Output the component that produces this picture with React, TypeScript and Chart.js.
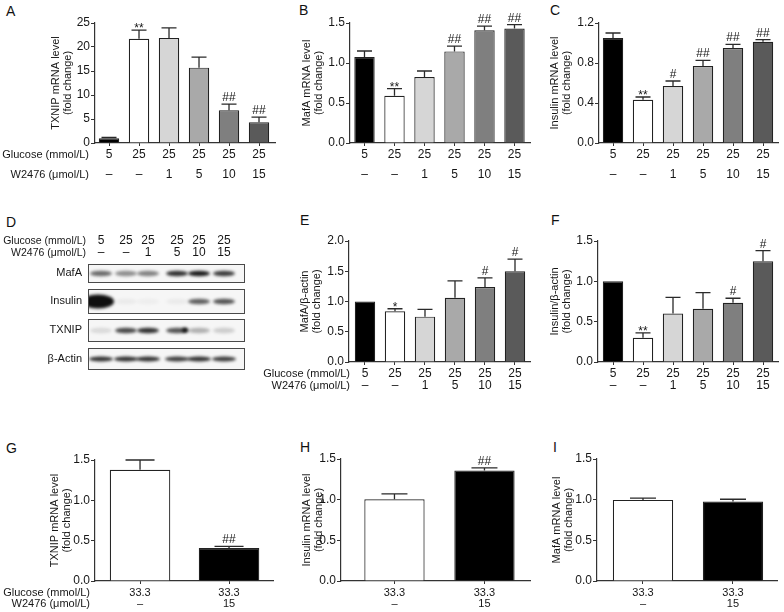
import React, { useEffect, useRef } from "react";
import { Chart, registerables } from "chart.js";
Chart.register(...registerables);

const FONT = "'Liberation Sans', Arial, Helvetica, sans-serif";
const INK = "#161616";
const AXIS = "#333333";

// ---- shared category labels ----
const glucose6 = ["5", "25", "25", "25", "25", "25"];
const w2476_6 = ["–", "–", "1", "5", "10", "15"];
const glucose2 = ["33.3", "33.3"];
const w2476_2 = ["–", "15"];
const rowLabelGlucose = "Glucose (mmol/L)";
const rowLabelW2476 = "W2476 (μmol/L)";

const fills6 = ["#000000", "#ffffff", "#d6d6d6", "#a9a9a9", "#7f7f7f", "#5a5a5a"];
const fills2 = ["#ffffff", "#000000"];

// ---- A: TXNIP mRNA ----
const aValues = [1.0, 21.7, 21.9, 15.7, 6.8, 4.3];
const aErrors = [0.15, 1.8, 2.1, 2.2, 1.3, 1.1];
const aSig = ["", "**", "", "", "##", "##"];
// ---- B: MafA mRNA ----
const bValues = [1.075, 0.59, 0.825, 1.145, 1.41, 1.43];
const bErrors = [0.075, 0.09, 0.075, 0.065, 0.05, 0.05];
const bSig = ["", "**", "", "##", "##", "##"];
// ---- C: Insulin mRNA ----
const cValues = [1.05, 0.433, 0.57, 0.77, 0.95, 1.013];
const cErrors = [0.05, 0.027, 0.05, 0.057, 0.037, 0.02];
const cSig = ["", "**", "#", "##", "##", "##"];
// ---- E: MafA/β-actin ----
const eValues = [1.0, 0.84, 0.75, 1.06, 1.24, 1.5];
const eErrors = [0, 0.04, 0.12, 0.28, 0.15, 0.2];
const eSig = ["", "*", "", "", "#", "#"];
// ---- F: Insulin/β-actin ----
const fValues = [1.0, 0.3, 0.6, 0.66, 0.735, 1.25];
const fErrors = [0, 0.06, 0.2, 0.2, 0.055, 0.13];
const fSig = ["", "**", "", "", "#", "#"];
// ---- G/H/I ----
const gValues = [1.38, 0.41];
const gErrors = [0.12, 0.02];
const gSig = ["", "##"];
const hValues = [1.005, 1.36];
const hErrors = [0.065, 0.03];
const hSig = ["", "##"];
const iValues = [0.997, 0.977];
const iErrors = [0.023, 0.028];
const iSig = ["", ""];

// ---- D: western blot band intensities (0..1) per lane ----
const blotProteins = ["MafA", "Insulin", "TXNIP", "β-Actin"];
const blotMafA = [0.6, 0.45, 0.5, 0.85, 0.95, 0.8];
const blotInsulin = [1.0, 0.05, 0.04, 0.05, 0.65, 0.7];
const blotTXNIP = [0.12, 0.75, 0.85, 0.7, 0.3, 0.18];
const blotActin = [0.85, 0.85, 0.85, 0.8, 0.85, 0.8];

type Geo = {
  left: number; top: number; width: number; height: number;
  axisX: number; topY: number; zeroY: number; endX: number;
  titleX: number; xMin: number; xMax: number;
  row1Y: number; row2Y: number; rowLabelRight?: number;
};

type PanelProps = {
  geo: Geo;
  values: number[];
  errors: number[];
  sig: string[];
  fills: string[];
  rows: string[][];
  yMax: number;
  yStep: number;
  decimals: number;
  title: string[];
  barPct: number;
  capW: number;
  xFont: number;
};

function BarPanel(p: PanelProps) {
  const ref = useRef<HTMLCanvasElement>(null);
  useEffect(() => {
    const g = p.geo;
    const lh = g.row2Y - g.row1Y;
    const firstOff = g.row1Y - g.zeroY;
    const tickLen = 3;
    const tickPad = firstOff - lh / 2 - tickLen;
    const titleLH = 12;
    const titlePad = g.titleX - g.left - titleLH / 2;
    const xs = p.values.map((_, i) => i);

    const plugin = {
      id: "errbars",
      afterDatasetsDraw(chart: any) {
        const ctx = chart.ctx as CanvasRenderingContext2D;
        const ys = chart.scales.y;
        const meta = chart.getDatasetMeta(0);
        ctx.save();
        meta.data.forEach((el: any, i: number) => {
          const e = p.errors[i];
          const yb = ys.getPixelForValue(p.values[i]);
          const yt = ys.getPixelForValue(p.values[i] + e);
          const x = el.x;
          if (e > 0) {
            ctx.strokeStyle = "#2a2a2a";
            ctx.lineWidth = 1.3;
            ctx.beginPath();
            ctx.moveTo(x, yb);
            ctx.lineTo(x, yt);
            ctx.moveTo(x - p.capW / 2, yt);
            ctx.lineTo(x + p.capW / 2, yt);
            ctx.stroke();
          }
          const s = p.sig[i];
          if (s) {
            ctx.fillStyle = INK;
            ctx.font = `12px ${FONT}`;
            ctx.textAlign = "center";
            ctx.textBaseline = "alphabetic";
            const by = s.indexOf("*") >= 0 ? yt + 2 : yt - 3;
            ctx.fillText(s, x, by);
          }
        });
        if (g.rowLabelRight !== undefined) {
          const ca = chart.chartArea;
          ctx.fillStyle = INK;
          ctx.font = `11px ${FONT}`;
          ctx.textAlign = "right";
          ctx.textBaseline = "middle";
          const rx = g.rowLabelRight - g.left;
          ctx.fillText(rowLabelGlucose, rx, ca.bottom + (g.row1Y - g.zeroY));
          ctx.fillText(rowLabelW2476, rx, ca.bottom + (g.row2Y - g.zeroY));
        }
        ctx.restore();
      },
    };

    const chart = new Chart(ref.current!, {
      type: "bar",
      data: {
        datasets: [
          {
            data: p.values.map((v, i) => ({ x: i, y: v })),
            backgroundColor: p.fills,
            borderColor: "#222222",
            borderWidth: 1.2,
            barPercentage: p.barPct,
            categoryPercentage: 1,
          } as any,
        ],
      },
      options: {
        animation: false,
        responsive: false,
        maintainAspectRatio: false,
        layout: {
          padding: { left: 0, right: g.left + g.width - g.endX, top: g.topY - g.top, bottom: 0 },
        },
        plugins: { legend: { display: false }, tooltip: { enabled: false }, title: { display: false } },
        scales: {
          x: {
            type: "linear",
            min: g.xMin,
            max: g.xMax,
            offset: false,
            afterBuildTicks: (s: any) => {
              s.ticks = xs.map((v) => ({ value: v }));
            },
            afterFit: (s: any) => {
              s.height = g.top + g.height - g.zeroY;
            },
            ticks: {
              autoSkip: false,
              maxRotation: 0,
              minRotation: 0,
              padding: tickPad,
              color: INK,
              font: { family: FONT, size: p.xFont, lineHeight: `${lh}px` } as any,
              callback: (_v: any, i: number) => [p.rows[0][i], p.rows[1][i]],
            },
            grid: { display: true, drawOnChartArea: false, drawTicks: true, tickLength: tickLen, color: AXIS, offset: false },
            border: { display: true, color: AXIS, width: 1.2 },
          } as any,
          y: {
            min: 0,
            max: p.yMax,
            afterFit: (s: any) => {
              s.width = g.axisX - g.left;
            },
            ticks: {
              stepSize: p.yStep,
              padding: 1,
              color: INK,
              font: { family: FONT, size: 12 },
              callback: (v: any) => Number(v).toFixed(p.decimals),
            },
            grid: { display: true, drawOnChartArea: false, drawTicks: true, tickLength: 4, color: AXIS },
            border: { display: true, color: AXIS, width: 1.2 },
            title: {
              display: true,
              text: p.title,
              color: INK,
              font: { family: FONT, size: 11, lineHeight: `${titleLH}px` } as any,
              padding: { top: titlePad, bottom: 0 },
            },
          } as any,
        },
      },
      plugins: [plugin],
    });
    return () => chart.destroy();
  }, []);
  const g = p.geo;
  return (
    <canvas
      ref={ref}
      width={g.width}
      height={g.height}
      style={{ position: "absolute", left: g.left, top: g.top, width: g.width, height: g.height }}
    />
  );
}

function Blot() {
  const ref = useRef<HTMLCanvasElement>(null);
  useEffect(() => {
    const c = ref.current!;
    const ctx = c.getContext("2d")!;
    const OY = 205;
    ctx.clearRect(0, 0, c.width, c.height);
    ctx.save();
    ctx.translate(0, -OY);
    const laneX = [101, 126, 148, 177, 199, 224];
    const boxL = 88, boxR = 245;
    const boxes = [
      [264, 283],
      [289, 314],
      [319, 342],
      [348, 370],
    ];
    const rowsI = [blotMafA, blotInsulin, blotTXNIP, blotActin];
    const labelY = [273, 301, 330, 359];

    // header
    ctx.fillStyle = INK;
    ctx.font = `10.5px ${FONT}`;
    ctx.textBaseline = "middle";
    ctx.textAlign = "right";
    ctx.fillText(rowLabelGlucose, 86, 241);
    ctx.fillText(rowLabelW2476, 86, 253);
    ctx.textAlign = "center";
    ctx.font = `12px ${FONT}`;
    glucose6.forEach((t, i) => ctx.fillText(t, laneX[i], 241));
    w2476_6.forEach((t, i) => ctx.fillText(t, laneX[i], 253));

    boxes.forEach(([t, b], r) => {
      ctx.fillStyle = "#f6f6f6";
      ctx.fillRect(boxL, t, boxR - boxL, b - t);
      ctx.save();
      ctx.beginPath();
      ctx.rect(boxL, t, boxR - boxL, b - t);
      ctx.clip();
      ctx.filter = "blur(1.6px)";
      const mid = (t + b) / 2;
      rowsI[r].forEach((v, i) => {
        ctx.fillStyle = `rgba(15,15,15,${v})`;
        ctx.beginPath();
        if (r === 1 && i === 0) {
          ctx.ellipse(laneX[i] - 3, mid, 16, 7, 0, 0, Math.PI * 2);
        } else {
          const rx = r === 3 ? 12 : 11;
          const ry = r === 3 ? 2.6 : 2.8;
          ctx.ellipse(laneX[i], mid, rx, ry, 0, 0, Math.PI * 2);
        }
        ctx.fill();
      });
      if (r === 2) {
        ctx.fillStyle = "rgba(0,0,0,0.85)";
        ctx.beginPath();
        ctx.ellipse(laneX[3] + 8, mid - 0.5, 3, 2.6, 0, 0, Math.PI * 2);
        ctx.fill();
      }
      ctx.restore();
      ctx.strokeStyle = "#4a4a4a";
      ctx.lineWidth = 1;
      ctx.strokeRect(boxL + 0.5, t + 0.5, boxR - boxL - 1, b - t - 1);
      ctx.fillStyle = INK;
      ctx.font = `11px ${FONT}`;
      ctx.textAlign = "right";
      ctx.textBaseline = "middle";
      ctx.fillText(blotProteins[r], 82, labelY[r]);
    });
    ctx.restore();
  }, []);
  return (
    <canvas ref={ref} width={260} height={180} style={{ position: "absolute", left: 0, top: 205, width: 260, height: 180 }} />
  );
}

const letterStyle = (x: number, capTop: number): React.CSSProperties => ({
  position: "absolute",
  left: x,
  top: capTop - 2,
  fontFamily: FONT,
  fontSize: 14,
  lineHeight: "14px",
  color: "#111",
});

export default function App() {
  const rows6 = [glucose6, w2476_6];
  const rows2 = [glucose2, w2476_2];
  return (
    <div style={{ position: "absolute", left: 0, top: 0, width: 784, height: 612, background: "#fff", overflow: "hidden" }}>
      <div style={letterStyle(6, 6)}>A</div>
      <div style={letterStyle(299, 5)}>B</div>
      <div style={letterStyle(550, 5)}>C</div>
      <div style={letterStyle(6, 217)}>D</div>
      <div style={letterStyle(300, 215)}>E</div>
      <div style={letterStyle(551, 215)}>F</div>
      <div style={letterStyle(6, 443)}>G</div>
      <div style={letterStyle(300, 442)}>H</div>
      <div style={letterStyle(553, 442)}>I</div>

      <BarPanel
        geo={{ left: 0, top: 0, width: 285, height: 190, axisX: 95, topY: 23, zeroY: 143, endX: 275, titleX: 56, xMin: -0.467, xMax: 5.533, row1Y: 155, row2Y: 175, rowLabelRight: 89 }}
        values={aValues} errors={aErrors} sig={aSig} fills={fills6} rows={rows6}
        yMax={25} yStep={5} decimals={0} title={["TXNIP mRNA level", "(fold change)"]}
        barPct={0.68} capW={15} xFont={12}
      />
      <BarPanel
        geo={{ left: 285, top: 0, width: 250, height: 190, axisX: 350, topY: 23, zeroY: 143, endX: 530, titleX: 307, xMin: -0.483, xMax: 5.517, row1Y: 155, row2Y: 175 }}
        values={bValues} errors={bErrors} sig={bSig} fills={fills6} rows={rows6}
        yMax={1.5} yStep={0.5} decimals={1} title={["MafA mRNA level", "(fold change)"]}
        barPct={0.68} capW={15} xFont={12}
      />
      <BarPanel
        geo={{ left: 535, top: 0, width: 249, height: 190, axisX: 599, topY: 23, zeroY: 143, endX: 778, titleX: 555, xMin: -0.467, xMax: 5.5, row1Y: 155, row2Y: 175 }}
        values={cValues} errors={cErrors} sig={cSig} fills={fills6} rows={rows6}
        yMax={1.2} yStep={0.4} decimals={1} title={["Insulin mRNA level", "(fold change)"]}
        barPct={0.68} capW={15} xFont={12}
      />

      <Blot />

      <BarPanel
        geo={{ left: 258, top: 205, width: 277, height: 195, axisX: 349, topY: 241, zeroY: 362, endX: 530, titleX: 305, xMin: -0.533, xMax: 5.5, row1Y: 374, row2Y: 386, rowLabelRight: 350 }}
        values={eValues} errors={eErrors} sig={eSig} fills={fills6} rows={rows6}
        yMax={2.0} yStep={0.5} decimals={1} title={["MafA/β-actin", "(fold change)"]}
        barPct={0.68} capW={15} xFont={12}
      />
      <BarPanel
        geo={{ left: 535, top: 205, width: 249, height: 195, axisX: 598, topY: 241, zeroY: 362, endX: 778, titleX: 555, xMin: -0.5, xMax: 5.5, row1Y: 374, row2Y: 386 }}
        values={fValues} errors={fErrors} sig={fSig} fills={fills6} rows={rows6}
        yMax={1.5} yStep={0.5} decimals={1} title={["Insulin/β-actin", "(fold change)"]}
        barPct={0.68} capW={15} xFont={12}
      />

      <BarPanel
        geo={{ left: 0, top: 430, width: 285, height: 182, axisX: 95, topY: 460, zeroY: 581, endX: 273, titleX: 55, xMin: -0.506, xMax: 1.494, row1Y: 593, row2Y: 604, rowLabelRight: 90 }}
        values={gValues} errors={gErrors} sig={gSig} fills={fills2} rows={rows2}
        yMax={1.5} yStep={0.5} decimals={1} title={["TXNIP mRNA level", "(fold change)"]}
        barPct={0.68} capW={29} xFont={11}
      />
      <BarPanel
        geo={{ left: 285, top: 430, width: 250, height: 182, axisX: 341, topY: 459, zeroY: 581, endX: 530, titleX: 307, xMin: -0.594, xMax: 1.506, row1Y: 593, row2Y: 604 }}
        values={hValues} errors={hErrors} sig={hSig} fills={fills2} rows={rows2}
        yMax={1.5} yStep={0.5} decimals={1} title={["Insulin mRNA level", "(fold change)"]}
        barPct={0.67} capW={26} xFont={11}
      />
      <BarPanel
        geo={{ left: 535, top: 430, width: 249, height: 182, axisX: 597, topY: 459, zeroY: 581, endX: 777, titleX: 557, xMin: -0.511, xMax: 1.489, row1Y: 593, row2Y: 604 }}
        values={iValues} errors={iErrors} sig={iSig} fills={fills2} rows={rows2}
        yMax={1.5} yStep={0.5} decimals={1} title={["MafA mRNA level", "(fold change)"]}
        barPct={0.67} capW={26} xFont={11}
      />
    </div>
  );
}
